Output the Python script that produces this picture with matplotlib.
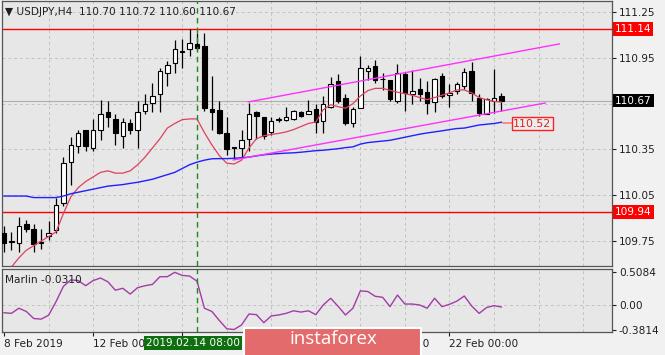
import matplotlib
matplotlib.use("Agg")
import matplotlib.pyplot as plt
from matplotlib.patches import Rectangle
import numpy as np

W, H = 665, 355

# USDJPY H4 bars, first bar = 8 Feb 2019 00:00
opens = [109.80, 109.745, 109.74, 109.86, 109.83, 109.74, 109.785, 109.825, 110.00, 110.27,
         110.37, 110.475, 110.36, 110.475, 110.595, 110.55, 110.44, 110.52, 110.475, 110.60,
         110.655, 110.71, 110.85, 110.915, 110.99, 111.005, 111.04, 111.025, 110.615, 110.61,
         110.455, 110.365, 110.36, 110.42, 110.595, 110.565, 110.465, 110.545, 110.545, 110.55,
         110.595, 110.585, 110.615, 110.535, 110.63, 110.795, 110.685, 110.52, 110.62, 110.865,
         110.895, 110.81, 110.805, 110.67, 110.845, 110.715, 110.745, 110.725, 110.66, 110.83,
         110.705, 110.735, 110.765, 110.865, 110.69, 110.585, 110.67, 110.70]
highs = [109.85, 109.81, 109.91, 109.89, 109.86, 109.83, 109.88, 110.035, 110.30, 110.43,
         110.48, 110.48, 110.55, 110.675, 110.665, 110.58, 110.555, 110.55, 110.665, 110.71,
         110.785, 110.885, 110.93, 111.065, 111.07, 111.14, 111.11, 111.11, 110.83, 110.665,
         110.565, 110.368, 110.475, 110.655, 110.60, 110.565, 110.56, 110.565, 110.63, 110.61,
         110.605, 110.675, 110.645, 110.70, 110.825, 110.845, 110.71, 110.63, 110.96, 110.905,
         110.935, 110.85, 110.805, 110.91, 110.86, 110.87, 110.82, 110.795, 110.82, 110.85,
         110.78, 110.79, 110.885, 110.925, 110.715, 110.685, 110.875, 110.72]
lows = [109.68, 109.69, 109.68, 109.81, 109.68, 109.70, 109.76, 109.805, 109.98, 110.115,
        110.33, 110.34, 110.34, 110.415, 110.50, 110.38, 110.36, 110.45, 110.36, 110.58,
        110.595, 110.595, 110.765, 110.85, 110.885, 110.96, 111.00, 110.60, 110.48, 110.45,
        110.315, 110.285, 110.295, 110.34, 110.42, 110.42, 110.445, 110.53, 110.535, 110.54,
        110.565, 110.58, 110.46, 110.46, 110.62, 110.655, 110.51, 110.50, 110.62, 110.805,
        110.785, 110.74, 110.665, 110.655, 110.60, 110.645, 110.665, 110.585, 110.595, 110.685,
        110.63, 110.71, 110.745, 110.665, 110.57, 110.58, 110.59, 110.60]
closes = [109.74, 109.748, 109.85, 109.83, 109.73, 109.742, 109.805, 109.985, 110.26, 110.38,
          110.46, 110.37, 110.475, 110.585, 110.565, 110.455, 110.53, 110.475, 110.595, 110.645,
          110.70, 110.865, 110.905, 111.005, 110.992, 111.045, 111.015, 110.62, 110.595, 110.46,
          110.35, 110.36, 110.41, 110.58, 110.57, 110.435, 110.535, 110.547, 110.565, 110.60,
          110.57, 110.60, 110.53, 110.645, 110.78, 110.67, 110.525, 110.615, 110.885, 110.885,
          110.805, 110.812, 110.68, 110.85, 110.72, 110.735, 110.715, 110.655, 110.81, 110.70,
          110.72, 110.78, 110.855, 110.72, 110.59, 110.68, 110.69, 110.67]

ma_fast = [109.50, 109.58, 109.64, 109.69, 109.72, 109.75, 109.78, 109.81, 109.93, 110.04,
           110.10, 110.14, 110.17, 110.20, 110.21, 110.195, 110.195, 110.21, 110.25, 110.30,
           110.36, 110.42, 110.49, 110.52, 110.545, 110.55, 110.55, 110.46, 110.38, 110.31,
           110.26, 110.255, 110.28, 110.36, 110.42, 110.44, 110.448, 110.455, 110.465, 110.48,
           110.50, 110.52, 110.53, 110.61, 110.643, 110.63, 110.62, 110.65, 110.70, 110.735,
           110.75, 110.75, 110.737, 110.725, 110.715, 110.705, 110.69, 110.676, 110.69, 110.705,
           110.72, 110.74, 110.74, 110.72, 110.69, 110.675, 110.665, 110.66]
ma_slow = [110.045, 110.045, 110.045, 110.045, 110.035, 110.035, 110.035, 110.035, 110.045, 110.06,
           110.07, 110.08, 110.09, 110.10, 110.11, 110.115, 110.12, 110.128, 110.135, 110.145,
           110.155, 110.17, 110.185, 110.20, 110.225, 110.25, 110.267, 110.28, 110.289, 110.29,
           110.29, 110.292, 110.296, 110.30, 110.308, 110.315, 110.32, 110.323, 110.326, 110.328,
           110.332, 110.337, 110.342, 110.345, 110.35, 110.355, 110.362, 110.367, 110.385, 110.395,
           110.40, 110.405, 110.41, 110.42, 110.43, 110.44, 110.45, 110.458, 110.465, 110.472,
           110.48, 110.487, 110.49, 110.50, 110.51, 110.515, 110.52, 110.528]
marlin = [-0.12, -0.13, -0.05, -0.10, -0.21, -0.22, -0.16, 0.05, 0.29, 0.39,
          0.38, 0.30, 0.38, 0.42, 0.36, 0.23, 0.26, 0.17, 0.27, 0.30,
          0.32, 0.44, 0.44, 0.5084, 0.46, 0.45, 0.37, -0.05, -0.10, -0.24,
          -0.37, -0.3814, -0.31, -0.14, -0.15, -0.275, -0.17, -0.155, -0.13, -0.09,
          -0.11, -0.09, -0.15, 0.0, 0.105, -0.02, -0.155, -0.05, 0.22, 0.21,
          0.135, 0.12, -0.025, 0.155, 0.015, 0.015, 0.0, -0.05, 0.105, -0.025,
          0.01, 0.06, 0.14, -0.015, -0.13, -0.04, -0.01, -0.031]

# channel trendlines (bar index, price)
chan_up_x, chan_up_y = [32.9, 74.8], [110.661, 111.041]
chan_lo_x, chan_lo_y = [30.9, 72.9], [110.281, 110.654]
levels = [111.14, 109.94]
marker_bar = 26

# 110.65 / 14 Feb / 18 Feb labels are covered by tags in the original, left blank
price_ticks = [109.75, 110.05, 110.35, 110.65, 110.95, 111.25]
price_labels = ["109.75", "110.05", "110.35", "", "110.95", "111.25"]
date_ticks = [0, 12, 24, 36, 48, 60]
date_labels = ["8 Feb 2019", "12 Feb 00:00", "", "", "20 Feb 00:00", "22 Feb 00:00"]

BG = "#e7e7e7"
GRID = "#c2c2c2"
FS = 7.6
plt.rcParams["font.family"] = "DejaVu Sans"


def px(l, t, r, b):
    return [l / W, 1 - b / H, (r - l) / W, (b - t) / H]


fig = plt.figure(figsize=(W / 100, H / 100), dpi=100, facecolor="#f1f1f1")
ax = fig.add_axes(px(2, 1, 612, 266), facecolor=BG)
ax2 = fig.add_axes(px(2, 269, 612, 332), facecolor=BG, sharex=ax)

idx = np.arange(len(opens))
o, h, l, c = map(np.array, (opens, highs, lows, closes))

for a in (ax, ax2):
    for i in range(6, 84, 6):
        a.axvline(i, color=GRID, lw=0.7, ls=(0, (3, 3)), zorder=0)
    for s in a.spines.values():
        s.set_color("#555555")
        s.set_linewidth(0.9)
    a.axvline(marker_bar, color="#1c8a1c", lw=1.0, ls=(0, (4, 3)), zorder=6)

for p in price_ticks:
    ax.axhline(p, color=GRID, lw=0.7, ls=(0, (3, 3)), zorder=0)
ax.axhline(closes[-1], color="#b0b0b0", lw=0.8, zorder=1)
for lv in levels:
    ax.axhline(lv, color="#ff0000", lw=1.0, zorder=2)

# candles
ax.vlines(idx, l, h, color="black", lw=0.9, zorder=3)
body_lo = np.minimum(o, c)
body_h = np.abs(c - o)
cols = np.where(c >= o, "white", "black")
ax.bar(idx, body_h, bottom=body_lo, width=0.6, color=cols,
       edgecolor="black", linewidth=0.8, zorder=4)

ax.plot(idx, ma_fast, color="#e0405c", lw=0.9, zorder=5)
ax.plot(idx, ma_slow, color="#2020ff", lw=1.0, zorder=5)
ax.plot(chan_up_x, chan_up_y, color="#ff30ff", lw=1.0, zorder=5)
ax.plot(chan_lo_x, chan_lo_y, color="#ff30ff", lw=1.0, zorder=5)

ax.set_xlim(-0.27, 81.9)
ax.set_ylim(109.587, 111.322)
ax.yaxis.tick_right()
ax.set_yticks(price_ticks)
ax.set_yticklabels(price_labels)
ax.tick_params(axis="y", length=3, width=0.8, pad=2, labelsize=FS, colors="#202020")
ax.tick_params(axis="x", bottom=False, labelbottom=False)


def tag(a, y, text, fc, fg="white"):
    a.text(1.005, y, text, transform=a.get_yaxis_transform(), ha="left", va="center",
           fontsize=FS, color=fg, zorder=10, clip_on=False,
           bbox=dict(boxstyle="square,pad=0.18", fc=fc, ec="none"))


tag(ax, levels[0], f"{levels[0]:.2f}", "#ff0000")
tag(ax, levels[1], f"{levels[1]:.2f}", "#ff0000")
tag(ax, closes[-1], f"{closes[-1]:.2f}", "black")

# label at the end of the slow MA
last = len(ma_slow) - 1
slow_lbl = np.floor(ma_slow[-1] * 100) / 100
ax.plot([last + 0.2, last + 1.5], [ma_slow[-1] - 0.008] * 2, color="#f08080", lw=1.2, zorder=6)
ax.text(last + 1.6, ma_slow[-1] - 0.01, f"{slow_lbl:.2f}", ha="left", va="center",
        fontsize=FS + 0.3, color="#e02020", zorder=10,
        bbox=dict(boxstyle="square,pad=0.15", fc="#ececec", ec="#ff2020", lw=1.0))

ax.text(0.005, 0.958, "\u25bc USDJPY,H4  110.70 110.72 110.60 110.67", transform=ax.transAxes,
        ha="left", va="center", fontsize=FS, color="#202020", zorder=10)

# Marlin oscillator
ax2.axhline(0, color=GRID, lw=0.7, ls=(0, (3, 3)), zorder=0)
ax2.plot(idx, marlin, color="#a23ca8", lw=1.0, zorder=5)
ax2.set_ylim(-0.42, 0.56)
ax2.yaxis.tick_right()
ax2.set_yticks([0.5084, 0.0, -0.3814])
ax2.set_yticklabels(["0.5084", "0.00", "-0.3814"])
ax2.tick_params(axis="y", length=3, width=0.8, pad=2, labelsize=FS, colors="#202020")
ax2.set_xticks(date_ticks)
ax2.set_xticklabels(date_labels, ha="left")
ax2.tick_params(axis="x", length=3, width=0.8, pad=2, labelsize=FS, colors="#202020")
ax2.text(0.005, 0.82, "Marlin -0.0310", transform=ax2.transAxes, ha="left", va="center",
         fontsize=FS, color="#202020", zorder=10)

# crosshair date tag
fig.text(193 / W, 1 - 343 / H, "2019.02.14 08:00", ha="center", va="center",
         fontsize=FS, color="white", zorder=10,
         bbox=dict(boxstyle="square,pad=0.22", fc="#0f6e0f", ec="none"))

# watermark logo
fig.patches.append(Rectangle((244 / W, -0.02), (421 - 244) / W, (357 - 323) / H,
                             transform=fig.transFigure, fc="#e46b6b", ec="white", lw=1.5,
                             zorder=20))
fig.text(333 / W, 1 - 339 / H, "instaforex", ha="center", va="center", fontsize=13.5,
         color="white", family="Open Sans", zorder=21)

fig.savefig("out.png", dpi=100, facecolor=fig.get_facecolor())
